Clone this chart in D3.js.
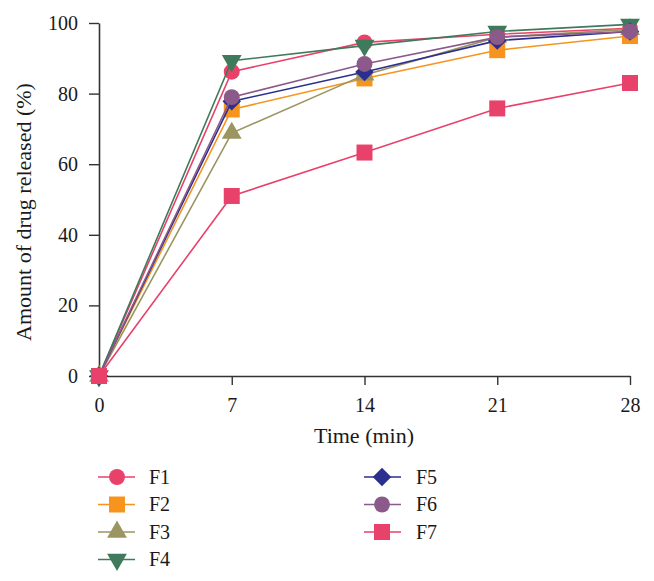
<!DOCTYPE html>
<html>
<head>
<meta charset="utf-8">
<script src="https://cdn.jsdelivr.net/npm/d3@7"></script>
<style>
  html, body { margin: 0; padding: 0; background: #ffffff; }
  svg { display: block; }
  text { font-family: "Liberation Serif", "DejaVu Serif", serif; fill: #1a1a1a; }
</style>
</head>
<body>
<div id="chart"></div>
<script>
// ---- data ----
const times = [0, 7, 14, 21, 28];
const seriesNames = ["F1", "F2", "F3", "F4", "F5", "F6", "F7"];
const F1 = [0, 86.2, 94.5, 96.8, 98.5];
const F2 = [0, 75.5, 84.3, 92.3, 96.3];
const F3 = [0, 68.8, 85.3, 96.0, 98.2];
const F4 = [0, 89.3, 93.6, 97.6, 99.6];
const F5 = [0, 77.8, 86.1, 95.0, 97.6];
const F6 = [0, 79.0, 88.4, 96.0, 97.6];
const F7 = [0, 51.0, 63.3, 75.8, 83.0];
const xTicks = [0, 7, 14, 21, 28];
const yTicks = [0, 20, 40, 60, 80, 100];
const xTitle = "Time (min)";
const yTitle = "Amount of drug released (%)";

const values = [F1, F2, F3, F4, F5, F6, F7];
const colors = ["#E8416A", "#F7941D", "#9B9561", "#3E7A5B", "#2B2F8E", "#8C5A8A", "#E8416A"];
const shapes = ["circle", "square", "triUp", "triDown", "diamond", "circle", "square"];

const W = 654, H = 581;
const svg = d3.select("#chart").append("svg").attr("width", W).attr("height", H);

const x = d3.scaleLinear().domain([0, 28]).range([99, 630]);
const y = d3.scaleLinear().domain([0, 100]).range([376, 23]);

// axes
const xAxis = svg.append("g").attr("transform", `translate(0,${y(0)})`)
  .call(d3.axisBottom(x).tickValues(xTicks).tickSizeInner(9).tickSizeOuter(0).tickPadding(13));
const yAxis = svg.append("g").attr("transform", `translate(${x(0)},0)`)
  .call(d3.axisLeft(y).tickValues(yTicks).tickSizeInner(10).tickSizeOuter(0).tickPadding(11));
[xAxis, yAxis].forEach(g => {
  g.selectAll("path.domain").attr("stroke", "#333").attr("stroke-width", 1.6);
  g.selectAll(".tick line").attr("stroke", "#333").attr("stroke-width", 1.4);
  g.selectAll(".tick text").attr("font-size", 20).attr("font-family", "Liberation Serif, serif").attr("fill", "#1a1a1a");
});

svg.append("text").attr("x", 364).attr("y", 443).attr("text-anchor", "middle")
  .attr("font-size", 22).text(xTitle);
svg.append("text").attr("transform", "translate(31,212) rotate(-90)").attr("text-anchor", "middle")
  .attr("font-size", 22).text(yTitle);

function symbolPath(shape) {
  switch (shape) {
    case "circle": return d3.symbol(d3.symbolCircle, 200)();
    case "square": return d3.symbol(d3.symbolSquare, 256)();
    case "triUp": return d3.symbol(d3.symbolTriangle, 170)();
    case "triDown": return d3.symbol(d3.symbolTriangle, 170)();
    case "diamond": return d3.symbol(d3.symbolSquare, 170)();
  }
}
function symbolRotate(shape) {
  if (shape === "triDown") return 180;
  if (shape === "diamond") return 45;
  return 0;
}

const line = d3.line().x((d, i) => x(times[i])).y(d => y(d));

values.forEach((vals, k) => {
  const g = svg.append("g");
  g.append("path").datum(vals).attr("d", line)
    .attr("fill", "none").attr("stroke", colors[k]).attr("stroke-width", 1.6);
  g.selectAll("path.mk").data(vals).enter().append("path").attr("class", "mk")
    .attr("d", symbolPath(shapes[k]))
    .attr("transform", (d, i) => `translate(${x(times[i])},${y(d)}) rotate(${symbolRotate(shapes[k])})`)
    .attr("fill", colors[k]);
});

// legend
const legCols = [{lx0: 98, lx1: 135, mx: 117, tx: 149}, {lx0: 364, lx1: 401, mx: 382, tx: 416}];
const legRows = [477, 504.5, 532, 559.5];
seriesNames.forEach((name, k) => {
  const col = legCols[k < 4 ? 0 : 1];
  const yy = legRows[k < 4 ? k : k - 4];
  const g = svg.append("g");
  g.append("line").attr("x1", col.lx0).attr("x2", col.lx1).attr("y1", yy).attr("y2", yy)
    .attr("stroke", colors[k]).attr("stroke-width", 1.6);
  g.append("path").attr("d", symbolPath(shapes[k]))
    .attr("transform", `translate(${col.mx},${yy}) rotate(${symbolRotate(shapes[k])})`)
    .attr("fill", colors[k]);
  g.append("text").attr("x", col.tx).attr("y", yy).attr("dy", "0.34em")
    .attr("font-size", 20).text(name);
});
</script>
</body>
</html>
